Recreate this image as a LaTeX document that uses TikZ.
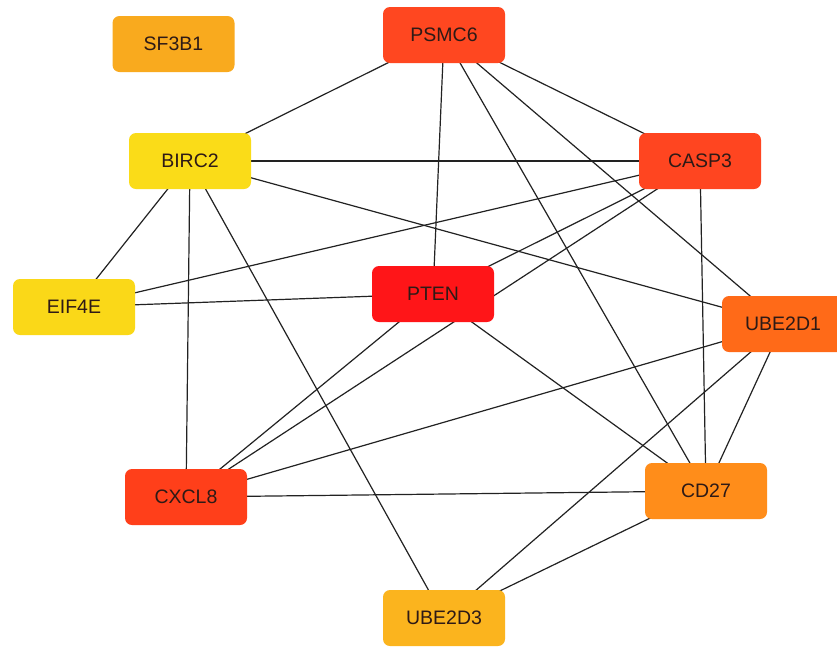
\documentclass[tikz,border=0pt]{standalone}
\usepackage{fontspec}
\setmainfont{Liberation Sans}
\usetikzlibrary{backgrounds}
\definecolor{cSF}{HTML}{F9AA1E}
\definecolor{cPS}{HTML}{FF4720}
\definecolor{cBI}{HTML}{FADC18}
\definecolor{cCA}{HTML}{FF4520}
\definecolor{cEI}{HTML}{FAD818}
\definecolor{cPT}{HTML}{FF1518}
\definecolor{cU1}{HTML}{FF6A18}
\definecolor{cCX}{HTML}{FF3F1A}
\definecolor{cCD}{HTML}{FF8D1A}
\definecolor{cU3}{HTML}{FBB41E}
\definecolor{txt}{HTML}{2E1A16}
\definecolor{edgec}{HTML}{222222}
\tikzset{
  gene/.style={rectangle, rounded corners=7pt, minimum width=122pt, minimum height=56pt,
    inner sep=0pt, text=txt, font=\fontsize{19.5}{20}\selectfont},
  edge/.style={line width=1.2pt, draw=edgec}
}
\begin{document}
\begin{tikzpicture}[x=1pt,y=-1pt]
\useasboundingbox (0,0) rectangle (837,646);
\node[gene, fill=cSF] (SF) at (173.5,44) {SF3B1};
\node[gene, fill=cPS] (PS) at (444,35) {PSMC6};
\node[gene, fill=cBI] (BI) at (190,161) {BIRC2};
\node[gene, fill=cCA] (CA) at (700,161) {CASP3};
\node[gene, fill=cEI] (EI) at (74,307) {EIF4E};
\node[gene, fill=cPT] (PT) at (433,294) {PTEN};
\node[gene, fill=cU1] (U1) at (783,324) {UBE2D1};
\node[gene, fill=cCX] (CX) at (186,497) {CXCL8};
\node[gene, fill=cCD] (CD) at (706,491) {CD27};
\node[gene, fill=cU3] (U3) at (444,618) {UBE2D3};
\begin{scope}[on background layer]
\fill[white] (0,0) rectangle (837,646);
\foreach \a/\b in {PS/BI, PS/PT, PS/CA, PS/U1, PS/CD,
  BI/CA, BI/U1, BI/EI, BI/CX, BI/U3,
  CA/EI, CA/PT, CA/CX, CA/CD,
  EI/PT, PT/CX, PT/CD,
  U1/CX, U1/CD, U1/U3, CX/CD, CD/U3}
  \draw[edge] (\a.center) -- (\b.center);
\end{scope}
\end{tikzpicture}
\end{document}
